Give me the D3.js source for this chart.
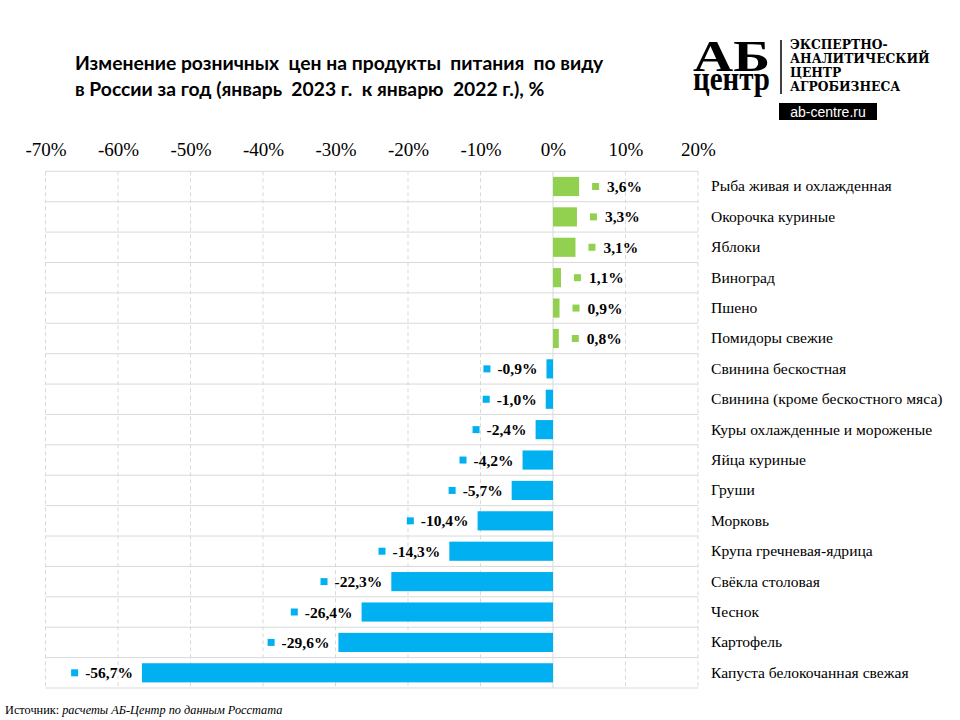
<!DOCTYPE html>
<html><head><meta charset="utf-8">
<script src="https://cdn.jsdelivr.net/npm/d3@7"></script>
<style>body{margin:0;background:#fff}svg{display:block}</style>
</head><body><svg id="c" width="960" height="720"></svg>
<script>
const categories = ["Рыба живая и охлажденная","Окорочка куриные","Яблоки","Виноград","Пшено","Помидоры свежие","Свинина бескостная","Свинина (кроме бескостного мяса)","Куры охлажденные и мороженые","Яйца куриные","Груши","Морковь","Крупа гречневая-ядрица","Свёкла столовая","Чеснок","Картофель","Капуста белокочанная свежая"];
const values = [3.6,3.3,3.1,1.1,0.9,0.8,-0.9,-1.0,-2.4,-4.2,-5.7,-10.4,-14.3,-22.3,-26.4,-29.6,-56.7];
const tickValues = [-70,-60,-50,-40,-30,-20,-10,0,10,20];
const titleLines = ["Изменение розничных  цен на продукты  питания  по виду","в России за год (январь  2023 г.  к январю  2022 г.), %"];
const logoLines = ["ЭКСПЕРТНО-","АНАЛИТИЧЕСКИЙ","ЦЕНТР","АГРОБИЗНЕСА"];

const svg = d3.select("#c");
const x = d3.scaleLinear().domain([-70,20]).range([45.5,698]);
const y = d3.scaleBand().domain(categories).range([171.3,688]).paddingInner(0.37).paddingOuter(0.185);
const serif = "'Liberation Serif','Times New Roman',serif";

// vertical gridlines
svg.append("g").selectAll("line").data(tickValues).join("line")
  .attr("x1",d=>x(d)).attr("x2",d=>x(d)).attr("y1",171.3).attr("y2",688)
  .attr("stroke","#d9d9d9").attr("stroke-width",1)
  .attr("stroke-dasharray",d=>d===0?null:"4,3");
// horizontal row lines
const bounds = d3.range(categories.length+1).map(i=>171.3+i*(688-171.3)/categories.length);
svg.append("g").selectAll("line").data(bounds).join("line")
  .attr("x1",x(-70)).attr("x2",x(20)).attr("y1",d=>d).attr("y2",d=>d)
  .attr("stroke","#d9d9d9").attr("stroke-width",1);

// top axis
const axis = d3.axisTop(x).tickValues(tickValues).tickSize(0).tickFormat(d=>d+"%");
const ag = svg.append("g").attr("transform","translate(0,156)").call(axis);
ag.select(".domain").remove();
ag.selectAll("text").attr("font-family",serif).attr("font-size",19).attr("fill","#000").attr("dy",0).attr("y",0);

const color = d => d>=0 ? "#92D050" : "#00B0F0";
// bars
svg.append("g").selectAll("rect").data(values).join("rect")
  .attr("x",d=>x(Math.min(0,d))).attr("width",d=>Math.abs(x(d)-x(0)))
  .attr("y",(d,i)=>y(categories[i])).attr("height",y.bandwidth())
  .attr("fill",color);

// labels
const lg = svg.append("g");
values.forEach((v,i)=>{
  const cy = y(categories[i]) + y.bandwidth()/2;
  const t = lg.append("text").attr("font-family",serif).attr("font-weight","bold")
    .attr("font-size",15.5).attr("y",cy+5.5).text(d3.format(".1f")(v).replace(".",",").replace("−","-")+"%");
  if (v>=0){
    const mx = x(v)+13;
    lg.append("rect").attr("x",mx).attr("y",cy-3.5).attr("width",7).attr("height",7).attr("fill",color(v));
    t.attr("x",mx+15);
  } else {
    const te = x(v)-9;
    t.attr("x",te).attr("text-anchor","end");
    const w = t.node().getComputedTextLength();
    lg.append("rect").attr("x",te-w-14).attr("y",cy-3.5).attr("width",7).attr("height",7).attr("fill",color(v));
  }
});

// category labels
svg.append("g").selectAll("text").data(categories).join("text")
  .attr("x",711).attr("y",d=>y(d)+y.bandwidth()/2+5)
  .attr("font-family",serif).attr("font-size",15.6).attr("fill","#000").text(d=>d);

// title
svg.append("g").selectAll("text").data(titleLines).join("text")
  .attr("x",75).attr("y",(d,i)=>70+i*26)
  .attr("font-family","Lato, 'Open Sans', sans-serif").attr("font-weight","bold")
  .attr("font-size",19.3).attr("fill","#000").style("white-space","pre").text(d=>d);

// logo
const logo = svg.append("g");
const mark = logo.append("text").attr("font-family",serif).attr("font-weight","bold");
mark.append("tspan").attr("x",693).attr("y",71).attr("font-size",45)
  .attr("textLength",77).attr("lengthAdjust","spacingAndGlyphs").text("АБ");
mark.append("tspan").attr("x",693).attr("y",90).attr("font-size",34)
  .attr("textLength",77).attr("lengthAdjust","spacingAndGlyphs").text("центр");
logo.append("line").attr("x1",781).attr("x2",781).attr("y1",40).attr("y2",94).attr("stroke","#000").attr("stroke-width",1.5);
logo.selectAll("text.l").data(logoLines).join("text").attr("class","l")
  .attr("x",790).attr("y",(d,i)=>49+i*14).attr("font-family","'DejaVu Serif',serif").attr("font-weight","bold")
  .attr("font-size",12.3).attr("fill","#000").text(d=>d);
logo.append("rect").attr("x",779).attr("y",103).attr("width",98).attr("height",17).attr("fill","#000");
logo.append("text").attr("x",828).attr("y",116.5).attr("text-anchor","middle").attr("font-family","'Liberation Sans',Arial,sans-serif")
  .attr("font-size",14).attr("fill","#fff").text("ab-centre.ru");

// source
const src = svg.append("text").attr("x",5).attr("y",714).attr("font-family",serif).attr("font-size",12.3).attr("fill","#000");
src.append("tspan").text("Источник: ");
src.append("tspan").attr("font-style","italic").text("расчеты АБ-Центр по данным Росстата");
</script></body></html>
